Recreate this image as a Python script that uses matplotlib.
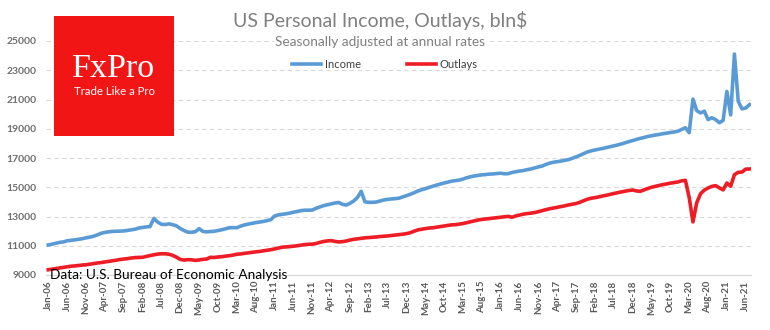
import matplotlib
matplotlib.use("Agg")
import matplotlib.pyplot as plt
from matplotlib.patches import Rectangle
import pandas as pd

plt.rcParams['font.family'] = ['Lato', 'DejaVu Sans']

# monthly, Jan-06 .. Jul-21, bln $ SAAR
income = [
    11050, 11110, 11170, 11230, 11260, 11340, 11370, 11400, 11440, 11480, 11540, 11590,  # 2006
    11650, 11740, 11850, 11910, 11950, 11980, 11990, 12000, 12010, 12050, 12090, 12130,  # 2007
    12210, 12250, 12290, 12310, 12870, 12620, 12470, 12450, 12500, 12440, 12360, 12180,  # 2008
    12040, 11930, 11920, 11960, 12170, 11980, 11950, 11970, 11990, 12040, 12090, 12160,  # 2009
    12230, 12240, 12230, 12340, 12420, 12480, 12530, 12580, 12620, 12660, 12720, 12780,  # 2010
    13030, 13110, 13150, 13180, 13230, 13290, 13340, 13400, 13430, 13430, 13440, 13560,  # 2011
    13650, 13740, 13800, 13860, 13920, 13960, 13840, 13780, 13900, 14060, 14300, 14720,  # 2012
    14000, 13970, 13970, 13990, 14060, 14130, 14170, 14200, 14220, 14250, 14340, 14420,  # 2013
    14520, 14620, 14740, 14830, 14900, 14990, 15070, 15150, 15220, 15290, 15350, 15420,  # 2014
    15450, 15490, 15560, 15650, 15720, 15770, 15810, 15850, 15870, 15900, 15910, 15940,  # 2015
    15960, 15920, 15930, 16010, 16060, 16110, 16140, 16200, 16250, 16320, 16390, 16450,  # 2016
    16560, 16650, 16710, 16750, 16790, 16840, 16890, 16980, 17080, 17180, 17300, 17410,  # 2017
    17490, 17550, 17600, 17650, 17710, 17770, 17830, 17890, 17960, 18040, 18120, 18190,  # 2018
    18270, 18340, 18400, 18470, 18520, 18570, 18610, 18660, 18700, 18740, 18780, 18830,  # 2019
    18950, 19070, 18730, 21030, 20240, 20080, 20200, 19630, 19750, 19630, 19410, 19570,  # 2020
    21550, 19950, 24110, 20880, 20360, 20420, 20650,                                     # 2021
]
outlays = [
    9360, 9400, 9440, 9480, 9520, 9560, 9600, 9620, 9650, 9680, 9700, 9740,
    9780, 9820, 9850, 9890, 9930, 9970, 10010, 10060, 10090, 10120, 10160, 10190,
    10200, 10210, 10270, 10330, 10380, 10430, 10450, 10450, 10420, 10340, 10220, 10070,
    10020, 10050, 10040, 10000, 10030, 10070, 10090, 10210, 10200, 10230, 10250, 10290,
    10320, 10360, 10420, 10440, 10480, 10510, 10550, 10580, 10610, 10650, 10690, 10730,
    10780, 10840, 10900, 10920, 10940, 10970, 11000, 11040, 11080, 11100, 11110, 11150,
    11230, 11290, 11330, 11350, 11300, 11260, 11280, 11320, 11390, 11440, 11470, 11510,
    11540, 11560, 11580, 11600, 11630, 11650, 11670, 11700, 11730, 11760, 11790, 11830,
    11890, 11990, 12080, 12130, 12170, 12210, 12230, 12270, 12310, 12350, 12390, 12430,
    12440, 12480, 12520, 12580, 12640, 12700, 12760, 12800, 12830, 12860, 12890, 12920,
    12950, 12980, 13010, 12950, 13040, 13100, 13160, 13200, 13230, 13270, 13330, 13400,
    13470, 13530, 13580, 13630, 13680, 13730, 13790, 13840, 13890, 13970, 14080, 14180,
    14250, 14290, 14340, 14400, 14450, 14510, 14570, 14630, 14680, 14730, 14780, 14810,
    14750, 14720, 14820, 14910, 15000, 15060, 15120, 15180, 15230, 15280, 15320, 15360,
    15440, 15470, 14300, 12630, 13940, 14550, 14800, 14950, 15060, 15110, 14960, 14820,
    15290, 15070, 15860, 16020, 16040, 16240, 16250,
]
months = pd.date_range('2006-01-01', periods=len(income), freq='MS')
xlabels = [d.strftime('%b-%y') for d in months]
yticks = list(range(9000, 25001, 2000))

W, H = 770, 330
fig = plt.figure(figsize=(W / 100, H / 100), dpi=100)
ax = fig.add_axes([46.4 / W, 1 - 275 / H, 705 / W, 234 / H])

x = list(range(len(income)))
ax.plot(x, income, color='#5b9bd5', lw=2.6, solid_joinstyle='round', label='Income', zorder=3)
ax.plot(x, outlays, color='#ee1c25', lw=2.6, solid_joinstyle='round', label='Outlays', zorder=3)

ax.set_xlim(-0.5, len(income) - 0.5)
ax.set_ylim(9000, 25000)
ax.set_yticks(yticks)
ax.set_xticks(x[::5])
ax.set_xticklabels(xlabels[::5], rotation=90, fontsize=7, fontweight='bold', color='#595959')
ax.tick_params(axis='y', length=0, pad=7, labelsize=7.5, labelcolor='#6f6f6f')
ax.tick_params(axis='x', length=0, pad=4)
for lab in ax.get_yticklabels():
    lab.set_fontweight('bold')
ax.grid(axis='y', color='#d9d9d9', ls=(0, (4, 3)), lw=0.8)
ax.set_axisbelow(True)
for s in ['left', 'top', 'right']:
    ax.spines[s].set_visible(False)
ax.spines['bottom'].set_color('#d9d9d9')
ax.spines['bottom'].set_linewidth(0.9)

# titles
fig.text(380 / W, 1 - 20 / H, 'US Personal Income, Outlays, bln$', ha='center', va='center',
         fontsize=14, color='#7f7f7f')
fig.text(380 / W, 1 - 42 / H, 'Seasonally adjusted at annual rates', ha='center', va='center',
         fontsize=9.8, color='#7f7f7f',
         bbox=dict(facecolor='white', edgecolor='none', pad=1))
fig.legend(loc='center', bbox_to_anchor=(385 / W, 1 - 64 / H), ncol=2, frameon=False,
           fontsize=8, handlelength=2.6, handletextpad=0.3, columnspacing=4.2,
           labelcolor='#404040')

# logo
fig.add_artist(Rectangle((54 / W, 1 - 136 / H), 120 / W, 120 / H, transform=fig.transFigure,
                         facecolor='#f21515', edgecolor='none', zorder=5))
fig.text(114 / W, 1 - 77 / H, 'FxPro', ha='center', va='baseline', fontsize=24.5,
         family='Liberation Serif', color='white', zorder=6)
fig.text(114 / W, 1 - 95.5 / H, 'Trade Like a Pro', ha='center', va='baseline', fontsize=8.2,
         color='white', zorder=6)

fig.text(50 / W, 1 - 279 / H, 'Data: U.S. Bureau of Economic Analysis', ha='left', va='baseline',
         fontsize=9.8, color='black', zorder=6)

fig.savefig('out.png', dpi=100)
